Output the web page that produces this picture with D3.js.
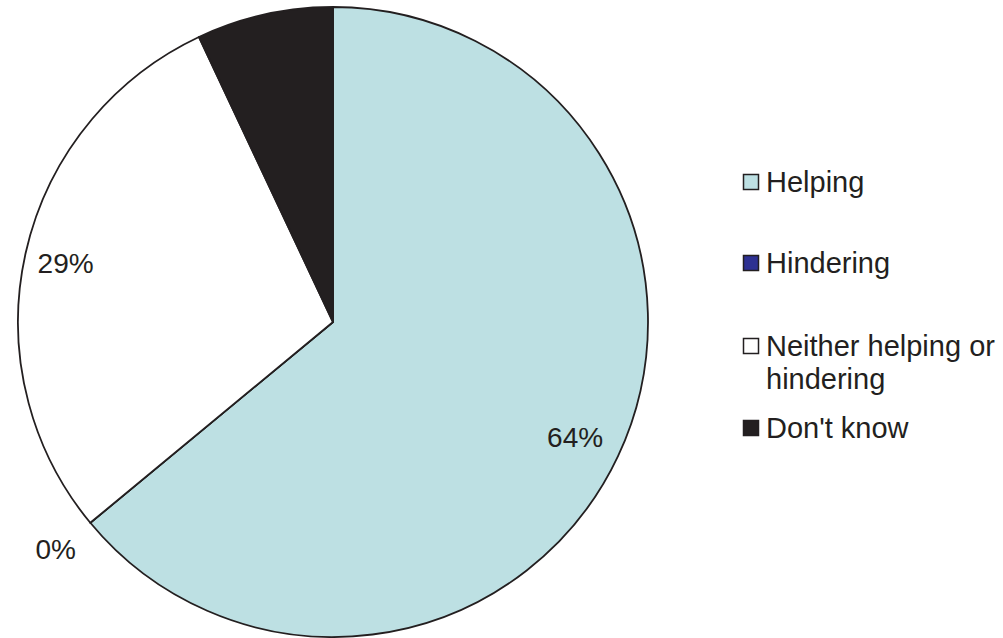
<!DOCTYPE html>
<html><head><meta charset="utf-8">
<script src="https://cdn.jsdelivr.net/npm/d3@7"></script>
<style>body{margin:0;background:#fff}svg{display:block}text{font-family:"Liberation Sans",Arial,sans-serif;fill:#231f20}</style>
</head><body><svg width="1003" height="638"></svg>
<script>
const categories = ["Helping", "Hindering", "Neither helping or hindering", "Don't know"];
const values = [64, 0, 29, 7];
const labels = ["64%", "0%", "29%", ""];
const legendLines = [["Helping"], ["Hindering"], ["Neither helping or", "hindering"], ["Don't know"]];
const colors = ["#bde0e3", "#2e3192", "#ffffff", "#231f20"];

const svg = d3.select("svg");
const cx = 333, cy = 322, R = 315;
const data = categories.map((c, i) => ({c, v: values[i], l: labels[i], col: colors[i]}));
const pie = d3.pie().value(d => d.v).sort(null);
const arc = d3.arc().innerRadius(0).outerRadius(R);
const g = svg.append("g").attr("transform", `translate(${cx},${cy})`);
const arcs = pie(data);
g.selectAll("path").data(arcs).join("path")
  .attr("d", arc).attr("fill", d => d.data.col)
  .attr("stroke", "#231f20").attr("stroke-width", 1.8).attr("stroke-linejoin", "round");

const inLabel = d3.arc().innerRadius(R * 0.86).outerRadius(R * 0.86);
g.selectAll("text.lbl").data(arcs.filter(d => d.data.l)).join("text")
  .attr("class", "lbl")
  .attr("transform", d => {
    let p;
    if (d.data.v === 0) {
      const a = d.startAngle;
      const r = R * 1.13;
      p = [r * Math.sin(a), -r * Math.cos(a)];
    } else p = inLabel.centroid(d);
    return `translate(${p[0] - 3},${p[1]})`;
  })
  .attr("text-anchor", "middle").attr("dy", "0.36em")
  .attr("font-size", 28).text(d => d.data.l);

const leg = svg.append("g");
const legY = [192, 273, 356, 438];
data.forEach((d, i) => {
  leg.append("rect").attr("x", 743.5).attr("y", legY[i] - 17.5).attr("width", 15).attr("height", 15)
    .attr("fill", d.col).attr("stroke", "#231f20").attr("stroke-width", 1.5);
  const t = leg.append("text").attr("x", 766).attr("y", legY[i]).attr("font-size", 29);
  legendLines[i].forEach((ln, j) => t.append("tspan").attr("x", 766).attr("dy", j ? 33 : 0).text(ln));
});
</script></body></html>
